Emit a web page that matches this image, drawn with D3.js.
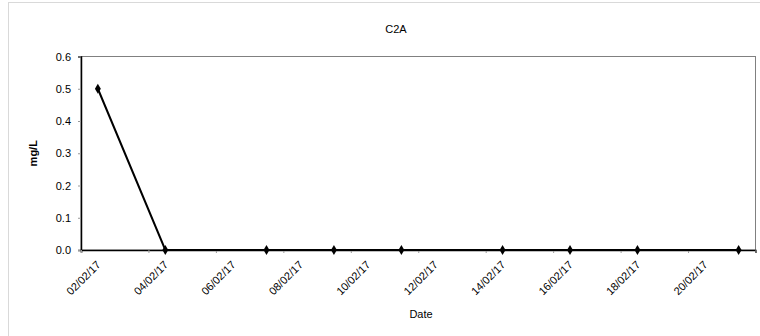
<!DOCTYPE html>
<html>
<head>
<meta charset="utf-8">
<script src="https://cdn.jsdelivr.net/npm/d3@7"></script>
<style>
  body { margin: 0; background: #fff; }
  svg { display: block; font-family: 'Liberation Sans', Arial, sans-serif; }
</style>
</head>
<body>
<div id="chart"></div>
<script>
let title = 'C2A'
let sampleDates = ['02/02/17', '04/02/17', '07/02/17', '09/02/17', '11/02/17', '14/02/17', '16/02/17', '18/02/17', '21/02/17']
let sampleValues = [0.5, 0, 0, 0, 0, 0, 0, 0, 0]
let tickDates = ['02/02/17', '04/02/17', '06/02/17', '08/02/17', '10/02/17', '12/02/17', '14/02/17', '16/02/17', '18/02/17', '20/02/17', '22/02/17']
let yTicks = [0, 0.1, 0.2, 0.3, 0.4, 0.5, 0.6]

let width = 760,
  height = 336,
  plot = { left: 81, right: 755.5, top: 56.5, bottom: 250 },
  halfDay = 12 * 3600 * 1000 // Excel puts each date in the middle of its day

let parseDate = d3.timeParse('%d/%m/%y')
let data = sampleDates.map((d, i) => ({ date: parseDate(d), value: sampleValues[i] }))
let ticks = tickDates.map(parseDate)

let x = d3.scaleTime()
  .domain([ticks[0], ticks[ticks.length - 1]])
  .range([plot.left, plot.right])

let y = d3.scaleLinear()
  .domain([0, 0.6])
  .range([plot.bottom, plot.top])

let svg = d3.select('#chart').append('svg')
  .attr('width', width)
  .attr('height', height)

// outer chart frame
svg.append('rect')
  .attr('x', 8.5)
  .attr('y', 2.5)
  .attr('width', width)
  .attr('height', height)
  .attr('fill', 'none')
  .attr('stroke', '#d9d9d9')

// plot area frame
svg.append('rect')
  .attr('x', plot.left)
  .attr('y', plot.top)
  .attr('width', plot.right - plot.left)
  .attr('height', plot.bottom - plot.top)
  .attr('fill', 'none')
  .attr('stroke', '#808080')

svg.append('text')
  .attr('x', 396)
  .attr('y', 33)
  .attr('text-anchor', 'middle')
  .attr('font-size', '11px')
  .text(title)

// y axis
let yAxis = svg.append('g')
  .attr('transform', 'translate(' + plot.left + ',0)')
  .call(d3.axisLeft(y).tickValues(yTicks).tickFormat(d3.format('.1f')).tickSize(3).tickPadding(7))
yAxis.select('.domain').attr('stroke', '#000').attr('stroke-width', 1.5)
yAxis.selectAll('.tick line').attr('stroke', '#999')
yAxis.selectAll('.tick text').attr('font-size', '11px').attr('fill', '#000')
  .attr('font-family', "'Liberation Sans', Arial, sans-serif")

// x axis
let xAxis = svg.append('g')
  .attr('transform', 'translate(0,' + plot.bottom + ')')
  .call(d3.axisBottom(x).tickValues(ticks).tickSize(3).tickFormat(''))
xAxis.select('.domain').attr('stroke', '#000').attr('stroke-width', 1.5)
xAxis.selectAll('.tick line').attr('stroke', '#999')

svg.append('g').selectAll('.x-label')
  .data(ticks.slice(0, -1))
  .enter().append('text')
  .attr('transform', d => 'translate(' + (x(+d + halfDay) + 1) + ',263) rotate(-45)')
  .attr('text-anchor', 'end')
  .attr('dy', '0.32em')
  .attr('font-size', '11px')
  .text(d3.timeFormat('%d/%m/%y'))

svg.append('text')
  .attr('x', 421)
  .attr('y', 318)
  .attr('text-anchor', 'middle')
  .attr('font-size', '11px')
  .text('Date')

svg.append('text')
  .attr('transform', 'translate(37,' + ((plot.top + plot.bottom) / 2) + ') rotate(-90)')
  .attr('text-anchor', 'middle')
  .attr('font-size', '11px')
  .attr('font-weight', 'bold')
  .text('mg/L')

// series
let line = d3.line()
  .x(d => x(+d.date + halfDay))
  .y(d => y(d.value))

svg.append('path')
  .datum(data)
  .attr('d', line)
  .attr('fill', 'none')
  .attr('stroke', '#000')
  .attr('stroke-width', 2)

svg.append('g').selectAll('.marker')
  .data(data)
  .enter().append('path')
  .attr('transform', d => 'translate(' + x(+d.date + halfDay) + ',' + y(d.value) + ')')
  .attr('d', d3.symbol().type(d3.symbolDiamond).size(30))
  .attr('fill', '#000')
</script>
</body>
</html>
